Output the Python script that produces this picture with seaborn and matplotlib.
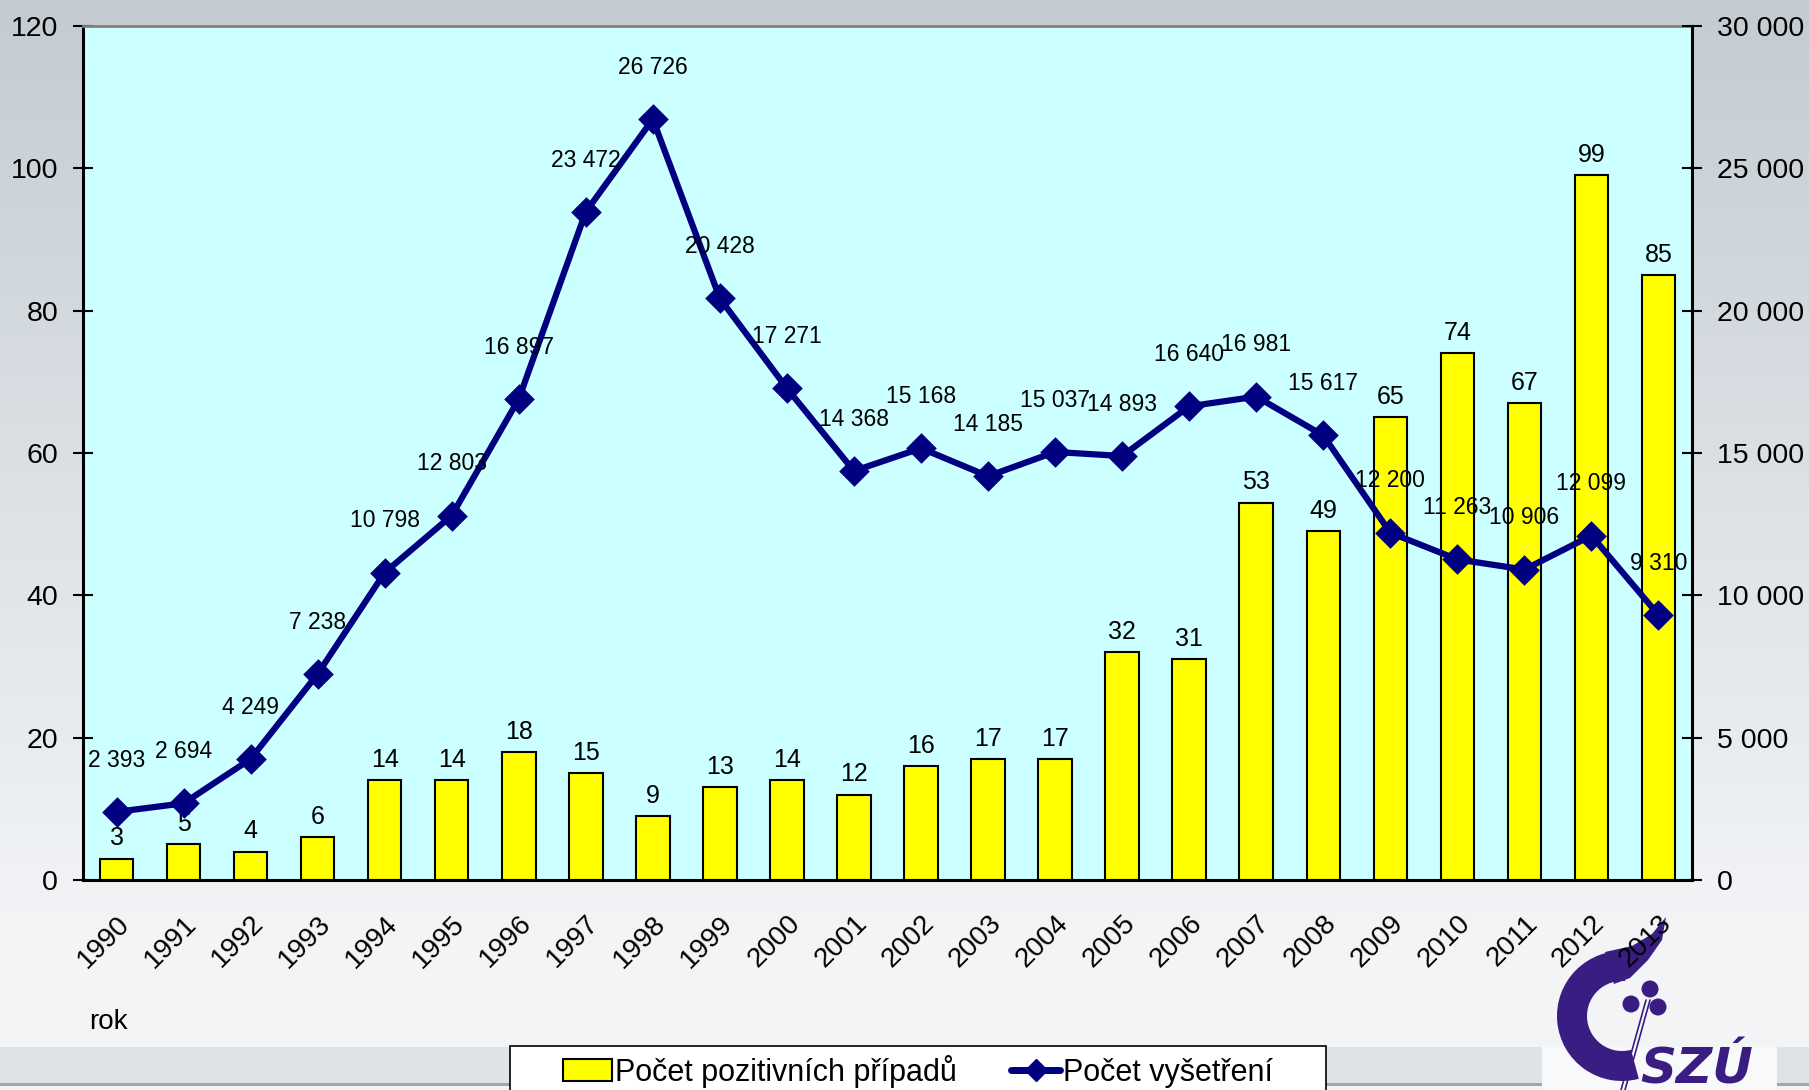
import numpy as np
import pandas as pd
import matplotlib
matplotlib.use("Agg")
import matplotlib.pyplot as plt
import seaborn as sns
from matplotlib.patches import Patch, Rectangle, Wedge, Circle, Polygon
from matplotlib.lines import Line2D
from matplotlib.ticker import FuncFormatter, FixedLocator

# ---- data ----
years = ["1990", "1991", "1992", "1993", "1994", "1995", "1996", "1997", "1998", "1999",
         "2000", "2001", "2002", "2003", "2004", "2005", "2006", "2007", "2008", "2009",
         "2010", "2011", "2012", "2013"]
positives = [3, 5, 4, 6, 14, 14, 18, 15, 9, 13, 14, 12, 16, 17, 17, 32, 31, 53, 49, 65,
             74, 67, 99, 85]
tests = [2393, 2694, 4249, 7238, 10798, 12803, 16897, 23472, 26726, 20428, 17271, 14368,
         15168, 14185, 15037, 14893, 16640, 16981, 15617, 12200, 11263, 10906, 12099, 9310]
left_ticks = [0, 20, 40, 60, 80, 100, 120]
right_ticks = [0, 5000, 10000, 15000, 20000, 25000, 30000]
label_bar = "Počet pozitivních případů"
label_line = "Počet vyšetření"
x_label = "rok"

df = pd.DataFrame({"rok": years, "pozitivni": positives, "vysetreni": tests})

sns.set_theme(style="white")
plt.rcParams["font.family"] = ["Liberation Sans", "DejaVu Sans"]
plt.rcParams["text.color"] = "black"
plt.rcParams["xtick.color"] = "black"
plt.rcParams["ytick.color"] = "black"

W, H = 1809, 1090
fig = plt.figure(figsize=(W / 100, H / 100), dpi=100)

# ---- background ----
bg = fig.add_axes([0, 0, 1, 1], zorder=0)
bg.set_xlim(0, W)
bg.set_ylim(H, 0)
bg.axis("off")
top = np.array([0.765, 0.800, 0.824])
bot = np.array([0.955, 0.960, 0.968])
t = np.clip(np.linspace(0, 1.15, 300), 0, 1)[:, None, None]
img = top + (bot - top) * t
bg.imshow(img, extent=[0, W, H, 0], aspect="auto", zorder=0)
# bottom band (interrupted by the logo)
for x0, x1 in [(0, 1542), (1777, W)]:
    bg.add_patch(Rectangle((x0, 1047), x1 - x0, 36, facecolor="#dfe2e6", edgecolor="none", zorder=1))
    bg.add_patch(Rectangle((x0, 1083), x1 - x0, 3, facecolor="#a0a5aa", edgecolor="none", zorder=1))
bg.add_patch(Rectangle((0, 1086), W, 4, facecolor="#f4f5f6", edgecolor="none", zorder=1))
bg.add_patch(Rectangle((1542, 1047), 235, 43, facecolor="#f8f9fa", edgecolor="none", zorder=1))

# logo (approximate)
purple = "#3a1d82"
bg.add_patch(Wedge((1622, 1016), 65, 75, 275, width=30, facecolor=purple, edgecolor="none", zorder=2))
bg.add_patch(Polygon([(1605, 952), (1632, 946), (1652, 934), (1666, 917), (1662, 940),
                      (1648, 960), (1630, 978), (1614, 984)],
                     closed=True, facecolor=purple, edgecolor="none", zorder=2))
for cx, cy in [(1650, 989), (1631, 1004), (1658, 1007)]:
    bg.add_patch(Circle((cx, cy), 8.5, facecolor=purple, edgecolor="none", zorder=2))
bg.plot([1646, 1621], [1000, 1090], color=purple, lw=1.2, zorder=2)
bg.plot([1650, 1625], [1000, 1090], color=purple, lw=1.2, zorder=2)
bg.text(1640, 1083, "SZÚ", color=purple, fontsize=36, fontweight="bold", fontstyle="italic",
        family="DejaVu Sans", ha="left", va="baseline", zorder=3)

# legend frame
bg.add_patch(Rectangle((510, 1046), 816, 60, facecolor="white", edgecolor="black", lw=1.2, zorder=4))

# ---- main axes ----
ax = fig.add_axes([83 / W, 1 - 880 / H, (1692 - 83) / W, (880 - 26) / H], zorder=1)
ax.set_facecolor("#ccffff")

sns.barplot(data=df, x="rok", y="pozitivni", ax=ax, color="#ffff00", saturation=1,
            edgecolor="black", linewidth=1.5, width=0.5)
ax.set_ylim(0, 120)
ax.yaxis.set_major_locator(FixedLocator(left_ticks))
ax.bar_label(ax.containers[0], padding=6, fontsize=18)

ax2 = ax.twinx()
ax2.set_zorder(2)
ax2.patch.set_visible(False)
sns.pointplot(data=df, x="rok", y="vysetreni", ax=ax2, color="#000080", markers="D",
              markersize=12, linewidth=4.5, errorbar=None)
ax2.set_ylim(0, 30000)
ax2.yaxis.set_major_locator(FixedLocator(right_ticks))
fmt = lambda v, p: f"{int(v):,}".replace(",", " ")
ax2.yaxis.set_major_formatter(FuncFormatter(fmt))
for line in ax2.lines:
    line.set_markeredgecolor("#000080")
    x_pos, y_val = line.get_xdata(), line.get_ydata()
    for xp, yv in zip(x_pos, y_val):
        ax2.annotate(fmt(yv, None), (xp, yv), xytext=(0, 29), textcoords="offset points",
                     ha="center", va="bottom", fontsize=16.5)

# x axis ticks: majors at category boundaries, labels at centers (minor)
n = len(years)
ax.set_xlim(-0.5, n - 0.5)
ax.set_xticks(np.arange(n + 1) - 0.5)
ax.set_xticklabels([""] * (n + 1))
ax.set_xticks(np.arange(n), minor=True)
ax.set_xticklabels(years, minor=True, rotation=45, ha="right", rotation_mode="anchor", fontsize=20)
ax.tick_params(axis="x", which="major", direction="inout", length=14, width=1.3, color="black")
ax.tick_params(axis="x", which="minor", length=0, pad=22)
ax.tick_params(axis="y", direction="inout", length=14, width=1.5, labelsize=20.5, pad=11)
ax2.tick_params(axis="y", direction="inout", length=14, width=1.5, labelsize=20.5, pad=11)
ax.set_xlabel("")
ax.set_ylabel("")
ax2.set_xlabel("")
ax2.set_ylabel("")

for s in ["left", "bottom"]:
    ax.spines[s].set_color("black")
    ax.spines[s].set_linewidth(2.2)
ax.spines["right"].set_visible(False)
ax.spines["top"].set_color("#808080")
ax.spines["top"].set_linewidth(2)
for s in ["left", "bottom", "top"]:
    ax2.spines[s].set_visible(False)
ax2.spines["right"].set_color("black")
ax2.spines["right"].set_linewidth(2.2)

fig.text(89 / W, 1 - 1022 / H, x_label, fontsize=20, va="center", ha="left")

handles = [Patch(facecolor="#ffff00", edgecolor="black", linewidth=1.5),
           Line2D([0], [0], color="#000080", lw=5, marker="D", markersize=11)]
fig.legend(handles, [label_bar, label_line], loc="center",
           bbox_to_anchor=(918 / W, 1 - 1071 / H), ncol=2, frameon=False, fontsize=22,
           handlelength=1.6, handletextpad=0.1, columnspacing=1.8)

fig.savefig("out.png", dpi=100)
